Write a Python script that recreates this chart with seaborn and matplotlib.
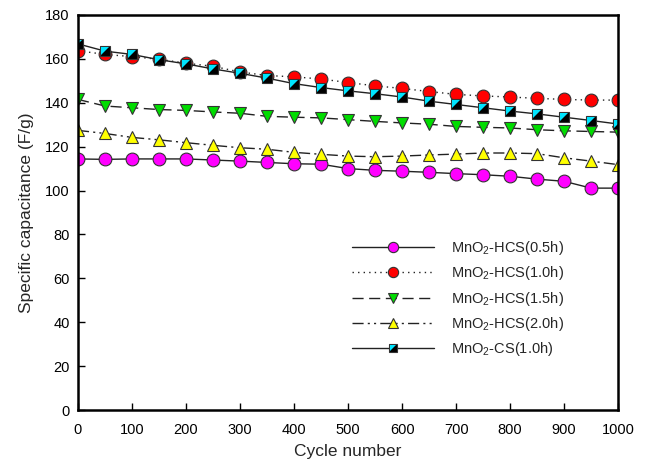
import numpy as np
import pandas as pd
import matplotlib
matplotlib.use("Agg")
import matplotlib.pyplot as plt
import seaborn as sns
from matplotlib.legend_handler import HandlerTuple
from matplotlib.lines import Line2D

cycles = [0, 50, 100, 150, 200, 250, 300, 350, 400, 450, 500,
          550, 600, 650, 700, 750, 800, 850, 900, 950, 1000]

hcs_05 = [114.4, 114.2, 114.4, 114.4, 114.4, 113.9, 113.4, 112.8, 112.2, 112.0, 110.0,
          109.2, 108.8, 108.3, 107.7, 107.2, 106.5, 105.2, 104.2, 101.1, 101.1]
hcs_10 = [163.7, 162.0, 161.0, 159.8, 158.0, 156.6, 154.0, 152.4, 151.8, 150.8, 149.2,
          147.7, 146.5, 145.1, 143.8, 143.1, 142.6, 142.0, 141.5, 141.2, 141.2]
hcs_15 = [141.5, 138.5, 137.7, 136.9, 136.5, 135.8, 135.2, 133.8, 133.4, 133.1, 132.3,
          131.5, 130.8, 130.2, 129.2, 128.8, 128.5, 127.7, 127.2, 126.9, 126.6]
hcs_20 = [127.4, 126.0, 124.2, 123.1, 121.8, 120.6, 119.5, 118.8, 117.4, 116.5, 115.7,
          115.4, 115.7, 116.2, 116.6, 117.1, 117.1, 116.8, 114.9, 113.4, 111.8]
cs_10 = [166.8, 163.5, 162.0, 159.6, 157.7, 155.4, 153.4, 151.2, 148.7, 146.9, 145.4,
         144.1, 142.6, 140.7, 139.2, 137.7, 136.2, 134.9, 133.4, 131.9, 130.3]

labels = ["MnO$_2$-HCS(0.5h)", "MnO$_2$-HCS(1.0h)", "MnO$_2$-HCS(1.5h)",
          "MnO$_2$-HCS(2.0h)", "MnO$_2$-CS(1.0h)"]
x_ticks = [0, 100, 200, 300, 400, 500, 600, 700, 800, 900, 1000]
y_ticks = [0, 20, 40, 60, 80, 100, 120, 140, 160, 180]

sns.set_theme(style="ticks")
plt.rcParams['font.family'] = ['Liberation Sans', 'DejaVu Sans']
plt.rcParams['mathtext.fontset'] = 'custom'
plt.rcParams['mathtext.rm'] = 'Liberation Sans'
plt.rcParams['mathtext.it'] = 'Liberation Sans'

fig = plt.figure(figsize=(6.5, 4.66), dpi=100)
ax = fig.add_axes([0.12, 0.12, 0.831, 0.848])

lc = "#222222"
ms = 9.2
common = dict(color=lc, linewidth=1.0, markeredgecolor="#333333", markeredgewidth=0.8)

sns.lineplot(x=cycles, y=hcs_05, ax=ax, marker='o', linestyle='-', markersize=ms,
             markerfacecolor='#ff00ff', **common)
sns.lineplot(x=cycles, y=hcs_10, ax=ax, marker='o', linestyle=(0, (1, 3)), markersize=ms,
             markerfacecolor='#ff0000', **common)
sns.lineplot(x=cycles, y=hcs_15, ax=ax, marker='v', linestyle=(0, (8, 4)), markersize=ms,
             markerfacecolor='#00dd00', **common)
sns.lineplot(x=cycles, y=hcs_20, ax=ax, marker='^', linestyle=(0, (8, 3, 1.5, 3, 1.5, 3)),
             markersize=ms, markerfacecolor='#ffff00', **common)
sns.lineplot(x=cycles, y=cs_10, ax=ax, marker='s', linestyle='-', markersize=7.8,
             markerfacecolor='black', color=lc, linewidth=1.0,
             markeredgecolor='#333333', markeredgewidth=0.8)
tri = [(-1, -1), (-1, 1), (1, 1)]
sns.lineplot(x=cycles, y=cs_10, ax=ax, marker=tri, linestyle='none', markersize=6.2,
             markerfacecolor='#00e5ff', markeredgewidth=0, color='#00e5ff')

ax.set_xlim(0, 1000)
ax.set_ylim(0, 180)
ax.set_xticks(x_ticks)
ax.set_yticks(y_ticks)
ax.tick_params(direction='in', length=5, width=1, labelsize=10.5, colors='black')
ax.tick_params(axis='x', pad=9)
ax.tick_params(axis='y', pad=6)
for s in ax.spines.values():
    s.set_linewidth(1.8)
    s.set_color('black')
ax.set_xlabel("Cycle number", fontsize=12.5, labelpad=5)
ax.set_ylabel("Specific capacitance (F/g)", fontsize=12.5, labelpad=8)

lms = 7.4
def h(mk, ls, fc, size=lms):
    return Line2D([], [], color=lc, linewidth=1.0, linestyle=ls, marker=mk,
                  markersize=size, markerfacecolor=fc, markeredgecolor='#333333',
                  markeredgewidth=0.8)

h5 = (h('s', '-', 'black', 6.2),
      Line2D([], [], linestyle='none', marker=tri, markersize=5.0,
             markerfacecolor='#00e5ff', markeredgewidth=0))
handles = [h('o', '-', '#ff00ff'), h('o', (0, (1, 3)), '#ff0000'),
           h('v', (0, (8, 4)), '#00dd00'), h('^', (0, (8, 3, 1.5, 3, 1.5, 3)), '#ffff00'), h5]
ax.legend(handles, labels, loc='upper left', bbox_to_anchor=(0.522, 0.515),
          bbox_transform=fig.transFigure, frameon=False, fontsize=10.5,
          handlelength=5.6, handletextpad=1.15, labelspacing=0.5,
          handler_map={tuple: HandlerTuple(ndivide=1)})

fig.savefig("out.png", dpi=100)
